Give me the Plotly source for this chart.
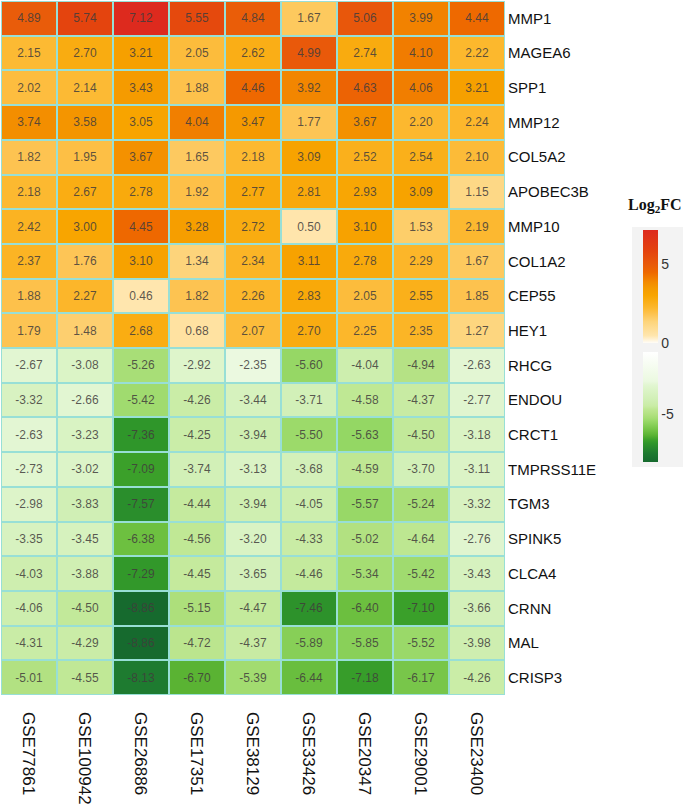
import plotly.graph_objects as go

datasets = ["GSE77861", "GSE100942", "GSE26886", "GSE17351", "GSE38129",
            "GSE33426", "GSE20347", "GSE29001", "GSE23400"]
genes = ["MMP1", "MAGEA6", "SPP1", "MMP12", "COL5A2", "APOBEC3B", "MMP10",
         "COL1A2", "CEP55", "HEY1", "RHCG", "ENDOU", "CRCT1", "TMPRSS11E",
         "TGM3", "SPINK5", "CLCA4", "CRNN", "MAL", "CRISP3"]

MMP1 = [4.89, 5.74, 7.12, 5.55, 4.84, 1.67, 5.06, 3.99, 4.44]
MAGEA6 = [2.15, 2.70, 3.21, 2.05, 2.62, 4.99, 2.74, 4.10, 2.22]
SPP1 = [2.02, 2.14, 3.43, 1.88, 4.46, 3.92, 4.63, 4.06, 3.21]
MMP12 = [3.74, 3.58, 3.05, 4.04, 3.47, 1.77, 3.67, 2.20, 2.24]
COL5A2 = [1.82, 1.95, 3.67, 1.65, 2.18, 3.09, 2.52, 2.54, 2.10]
APOBEC3B = [2.18, 2.67, 2.78, 1.92, 2.77, 2.81, 2.93, 3.09, 1.15]
MMP10 = [2.42, 3.00, 4.45, 3.28, 2.72, 0.50, 3.10, 1.53, 2.19]
COL1A2 = [2.37, 1.76, 3.10, 1.34, 2.34, 3.11, 2.78, 2.29, 1.67]
CEP55 = [1.88, 2.27, 0.46, 1.82, 2.26, 2.83, 2.05, 2.55, 1.85]
HEY1 = [1.79, 1.48, 2.68, 0.68, 2.07, 2.70, 2.25, 2.35, 1.27]
RHCG = [-2.67, -3.08, -5.26, -2.92, -2.35, -5.60, -4.04, -4.94, -2.63]
ENDOU = [-3.32, -2.66, -5.42, -4.26, -3.44, -3.71, -4.58, -4.37, -2.77]
CRCT1 = [-2.63, -3.23, -7.36, -4.25, -3.94, -5.50, -5.63, -4.50, -3.18]
TMPRSS11E = [-2.73, -3.02, -7.09, -3.74, -3.13, -3.68, -4.59, -3.70, -3.11]
TGM3 = [-2.98, -3.83, -7.57, -4.44, -3.94, -4.05, -5.57, -5.24, -3.32]
SPINK5 = [-3.35, -3.45, -6.38, -4.56, -3.20, -4.33, -5.02, -4.64, -2.76]
CLCA4 = [-4.03, -3.88, -7.29, -4.45, -3.65, -4.46, -5.34, -5.42, -3.43]
CRNN = [-4.06, -4.50, -8.86, -5.15, -4.47, -7.46, -6.40, -7.10, -3.66]
MAL = [-4.31, -4.29, -8.86, -4.72, -4.37, -5.89, -5.85, -5.52, -3.98]
CRISP3 = [-5.01, -4.55, -8.13, -6.70, -5.39, -6.44, -7.18, -6.17, -4.26]

rows = [MMP1, MAGEA6, SPP1, MMP12, COL5A2, APOBEC3B, MMP10, COL1A2, CEP55, HEY1,
        RHCG, ENDOU, CRCT1, TMPRSS11E, TGM3, SPINK5, CLCA4, CRNN, MAL, CRISP3]

zmax = 7.12
zmin = -8.86

z_pos = [[v if v >= 0 else None for v in r] for r in rows]
z_neg = [[v if v < 0 else None for v in r] for r in rows]

pos_scale = [
    [0.0, "#FFFDF8"], [0.065, "#FFE6AE"], [0.19, "#FDD47A"], [0.26, "#FDC24E"],
    [0.31, "#FCB82E"], [0.42, "#F8A500"], [0.48, "#F59B00"], [0.54, "#F38A00"],
    [0.625, "#EE6800"], [0.69, "#E95B0A"], [0.81, "#E4430E"], [1.0, "#DD2A1E"],
]
neg_scale = [
    [0.0, "#166A2E"], [0.08, "#1E7A30"], [0.17, "#2F962A"], [0.2, "#3BA02A"],
    [0.24, "#58B232"], [0.28, "#6DC040"], [0.37, "#97D866"], [0.40, "#A6DD74"],
    [0.44, "#B4E284"], [0.48, "#BEE792"], [0.51, "#C9ECA5"], [0.58, "#D2F0B8"],
    [0.66, "#DCF4C8"], [0.70, "#E2F6D2"], [0.735, "#EBF9E0"], [1.0, "#FFFFFF"],
]

L, T, R, B = 1, 1, 180, 112
W, H = 685, 807
PW, PH = W - L - R, H - T - B

def px_x(p):
    return (p - L) / PW

def px_y(p):
    return (T + PH - p) / PH

text_font = dict(family="Liberation Sans, Arial", size=12, color="rgba(65,60,60,0.85)")

fig = go.Figure()
fig.add_trace(go.Heatmap(
    z=z_pos, x=datasets, y=genes, zmin=0, zmax=zmax, colorscale=pos_scale,
    xgap=2, ygap=2, texttemplate="%{z:.2f}", textfont=text_font, hoverongaps=False,
    colorbar=dict(
        x=px_x(643), xanchor="left", xpad=0, y=px_y(230), yanchor="top", ypad=0,
        len=113, lenmode="pixels", thickness=15, outlinewidth=0,
        tickvals=[0, 5], ticktext=["0", "5"], ticks="",
        tickfont=dict(family="Liberation Sans, Arial", size=14, color="#333"),
    ),
))
fig.add_trace(go.Heatmap(
    z=z_neg, x=datasets, y=genes, zmin=zmin, zmax=0, colorscale=neg_scale,
    xgap=2, ygap=2, texttemplate="%{z:.2f}", textfont=text_font, hoverongaps=False,
    colorbar=dict(
        x=px_x(643), xanchor="left", xpad=0, y=px_y(352), yanchor="top", ypad=0,
        len=110, lenmode="pixels", thickness=15, outlinewidth=0,
        tickvals=[-5], ticktext=["-5"], ticks="",
        tickfont=dict(family="Liberation Sans, Arial", size=14, color="#333"),
    ),
))

fig.update_layout(
    width=W, height=H,
    margin=dict(l=L, r=R, t=T, b=B, pad=0),
    paper_bgcolor="white",
    plot_bgcolor="#98DFD6",
    font=dict(family="Liberation Sans, Arial", color="#111"),
    xaxis=dict(tickangle=90, tickfont=dict(size=17, color="#111"), showgrid=False,
               zeroline=False, ticks="", ticklabelstandoff=16),
    yaxis=dict(autorange="reversed", side="right", tickfont=dict(size=15, color="#111"),
               showgrid=False, zeroline=False, ticks="", ticklabelstandoff=2),
    shapes=[dict(type="rect", xref="paper", yref="paper",
                 x0=px_x(632), x1=px_x(683), y0=px_y(467), y1=px_y(227),
                 fillcolor="#F3F3F3", line=dict(width=0), layer="below")],
    annotations=[dict(text="<b>Log<sub>2</sub>FC</b>", xref="paper", yref="paper",
                      x=px_x(655), y=px_y(205), xanchor="center", yanchor="middle",
                      showarrow=False,
                      font=dict(family="Liberation Serif, Times New Roman", size=16, color="#111"))],
)

fig.write_html("out.html",
               config={"displayModeBar": False},
               post_script="document.body.style.margin='0px';document.body.style.overflow='hidden';")
